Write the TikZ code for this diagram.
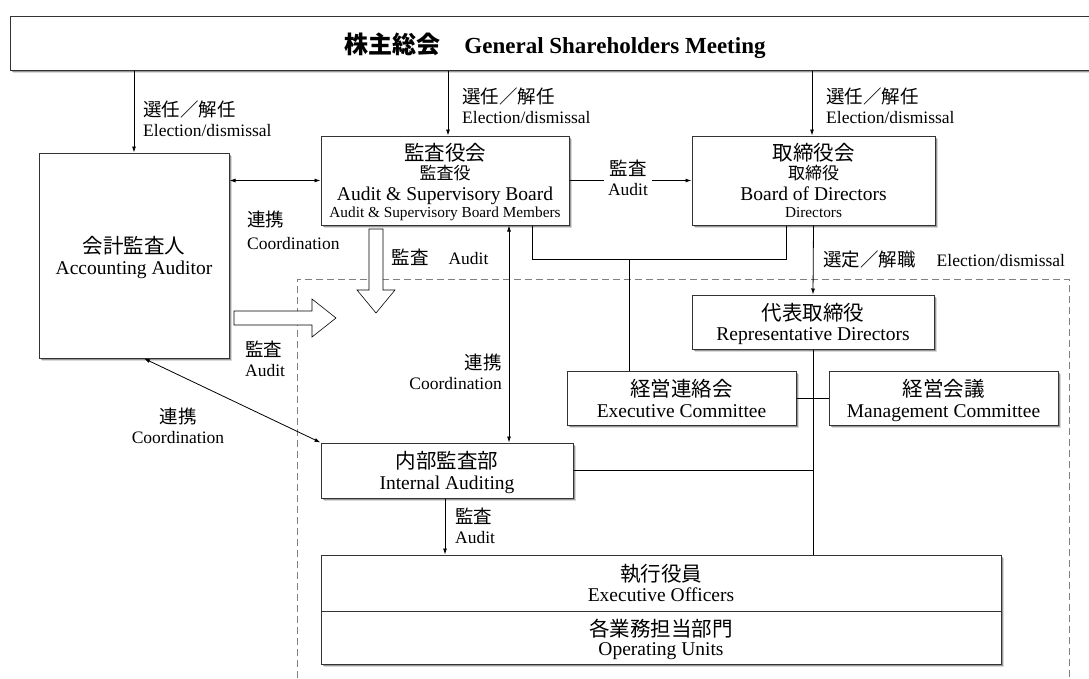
\documentclass[tikz,border=0pt]{standalone}
\usepackage{fontspec}
\setmainfont{Liberation Serif}
\newfontfamily\jp{Noto Sans CJK JP}
\usetikzlibrary{arrows.meta,shadows}
\newcommand\jA[1]{{\jp\fontsize{20.5}{21}\selectfont #1}}
\newcommand\jB[1]{{\jp\fontsize{17}{21}\selectfont #1}}
\newcommand\eA[1]{{\fontsize{19.5}{21}\selectfont #1}}
\newcommand\eB[1]{{\fontsize{15.3}{21}\selectfont #1}}
\newcommand\jL[1]{{\jp\fontsize{18.5}{20}\selectfont #1}}
\newcommand\eL[1]{{\fontsize{17.5}{20}\selectfont #1}}
\tikzset{
  box/.style={draw=black!80, line width=1pt, fill=white, inner sep=0pt, align=center,
    font=\fontsize{19.5}{21}\selectfont, text depth=0pt,
    drop shadow={shadow xshift=3pt, shadow yshift=-3pt, opacity=.15, fill=black},
    drop shadow={shadow xshift=1.6pt, shadow yshift=-1.6pt, opacity=.3, fill=black}},
  lbl/.style={inner sep=0pt, align=left, font=\fontsize{17.5}{20}\selectfont},
  conn/.style={line width=0.8pt, draw=black},
  arr/.style={conn, -{Latex[length=6pt,width=4pt]}},
  darr/.style={conn, {Latex[length=6pt,width=4pt]}-{Latex[length=6pt,width=4pt]}},
  hollow/.style={draw=black, line width=0.6pt, fill=white},
  region/.style={draw=black!50, line width=0.9pt, dash pattern=on 7pt off 4pt},
}
\begin{document}
\begin{tikzpicture}[x=1pt,y=-1pt]
\useasboundingbox (0,0) rectangle (1089,678);
\fill[white] (0,0) rectangle (1089,678);

% dashed region
\draw[region] (297,678) -- (297,279) -- (1069,279) -- (1069,678);

% boxes
\node[box, minimum width=1090pt, minimum height=54pt, font=\bfseries\fontsize{23}{24}\selectfont] (gsm) at (555,43)
  {{\jp\bfseries\fontsize{24}{24}\selectfont 株主総会}\hspace{24pt}General Shareholders Meeting};
\node[box, minimum width=190pt, minimum height=205pt] (aa) at (134,255.5)
  {\jA{会計監査人}\\\eA{Accounting Auditor}};
\node[box, minimum width=248pt, minimum height=89pt] (ab) at (445,180.5)
  {\jA{監査役会}\\[-2pt]\jB{監査役}\\[0.5pt]\eA{Audit \& Supervisory Board}\\[-4pt]\eB{Audit \& Supervisory Board Members}};
\node[box, minimum width=243pt, minimum height=89pt] (bod) at (813.5,180.5)
  {\jA{取締役会}\\[-2pt]\jB{取締役}\\[0.5pt]\eA{Board of Directors}\\[-4pt]\eB{Directors}};
\node[box, minimum width=242pt, minimum height=54pt] (rd) at (813,322)
  {\jA{代表取締役}\\[-1.5pt]\eA{Representative Directors}};
\node[box, minimum width=229pt, minimum height=54pt] (ec) at (681.5,398)
  {\jA{経営連絡会}\\\eA{Executive Committee}};
\node[box, minimum width=229pt, minimum height=54pt] (mc) at (943.5,398)
  {\jA{経営会議}\\\eA{Management Committee}};
\node[box, minimum width=252pt, minimum height=55pt] (ia) at (447,470.5)
  {\jA{内部監査部}\\\eA{Internal Auditing}};
\node[box, minimum width=680pt, minimum height=56pt] (eo) at (661,583)
  {\jA{執行役員}\\[-1.5pt]\eA{Executive Officers}};
\node[box, minimum width=680pt, minimum height=53pt] (ou) at (661,637.5)
  {\jA{各業務担当部門}\\[-1.5pt]\eA{Operating Units}};

% hollow arrows
\draw[hollow] (234,311) -- (312,311) -- (312,299) -- (336,318) -- (312,337) -- (312,325) -- (234,325) -- cycle;
\draw[hollow] (369,229) -- (383,229) -- (383,290) -- (395,290) -- (376,313) -- (357,290) -- (369,290) -- cycle;

% connectors
\draw[arr] (aa.north |- gsm.south) -- (aa.north);
\draw[arr] ([xshift=3pt]ab.north |- gsm.south) -- ([xshift=3pt]ab.north);
\draw[arr] ([xshift=-1.5pt]bod.north |- gsm.south) -- ([xshift=-1.5pt]bod.north);
\draw[darr] (aa.east |- ab.west) -- (ab.west);
\draw[arr] (ab.east) -- (bod.west);
\draw[arr] (bod.south) -- (rd.north);
\coordinate (j1) at (532,259);
\coordinate (j2) at (786,259);
\coordinate (j3) at (629,259);
\draw[conn] (ab.south -| j1) -- (j1) -- (j2) -- (bod.south -| j2);
\draw[conn] (j3) -- (ec.north -| j3);
\draw[conn] (rd.south) -- (rd.south |- eo.north);
\draw[conn] (ec.east) -- (mc.west);
\draw[conn] (ia.east) -- (ia.east -| rd.south);
\draw[arr] ([xshift=-2pt]ia.south) -- ([xshift=-2pt]ia.south |- eo.north);
\draw[darr] ([xshift=64pt]ab.south) -- ([xshift=64pt]ab.south |- ia.north);
\draw[darr] ([xshift=10pt]aa.south) -- (ia.north west);

% labels
\node[lbl, anchor=west] (l1) at (143,119) {\jL{選任／解任}\\\eL{Election/dismissal}};
\node[lbl, anchor=west] (l2) at (462,106) {\jL{選任／解任}\\\eL{Election/dismissal}};
\node[lbl, anchor=west] (l3) at (826,106) {\jL{選任／解任}\\\eL{Election/dismissal}};
\node[lbl, anchor=west] (l4) at (247,230.5) {\jL{連携}\\[3pt]\eL{Coordination}};
\node[lbl, anchor=west] (l5) at (245,359) {\jL{監査}\\\eL{Audit}};
\node[lbl, align=center] (l6) at (178,425.5) {\jL{連携}\\\eL{Coordination}};
\node[lbl, anchor=east, align=right] (l7) at (502,372) {\jL{連携}\\\eL{Coordination}};
\node[lbl, align=center, fill=white, inner xsep=4pt] (l8) at (628,177.5) {\jL{監査}\\\eL{Audit}};
\node[lbl, anchor=west] (l9) at (455,525.5) {\jL{監査}\\\eL{Audit}};
\node[lbl] (l10) at (440,257) {\jL{監査}\hspace{20pt}\eL{Audit}};
\node[lbl, anchor=west] (l11) at (823,259) {\jL{選定／解職}\hspace{21pt}\eL{Election/dismissal}};
\end{tikzpicture}
\end{document}
